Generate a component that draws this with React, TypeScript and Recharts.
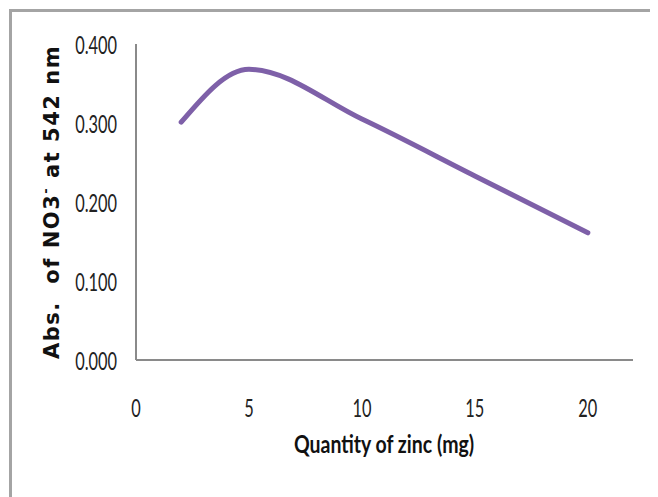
import { Customized, Line, LineChart, XAxis, YAxis } from 'recharts';

const zincMg = [2, 5, 10, 15, 20];
const absorbance = [0.301, 0.368, 0.305, 0.233, 0.161];
const xTicks = [0, 5, 10, 15, 20];
const yTicks = [0, 0.1, 0.2, 0.3, 0.4];

const LINE_COLOR = '#7e60a8';
const AXIS_COLOR = '#8a8a8a';
const TICK_FONT = 'Lato, "Open Sans", sans-serif';

const data = zincMg.map((x, i) => ({ x, y: absorbance[i] }));

function XTick({ x, y, payload }: any) {
  return (
    <g transform={`translate(${x},${y + 57})`}>
      <text transform="scale(0.63,1)" textAnchor="middle" fontFamily={TICK_FONT} fontSize={26} fill="#222">
        {payload.value}
      </text>
    </g>
  );
}

function YTick({ x, y, payload }: any) {
  return (
    <g transform={`translate(${x - 19},${y + 10})`}>
      <text transform="scale(0.63,1)" textAnchor="end" fontFamily={TICK_FONT} fontSize={26} fill="#222">
        {Number(payload.value).toFixed(3)}
      </text>
    </g>
  );
}

function Titles() {
  return (
    <g>
      <g transform="translate(376,445)">
        <text transform="scale(0.78,1)" textAnchor="middle" fontFamily={TICK_FONT} fontWeight={700} fontSize={25} fill="#111">
          Quantity of zinc (mg)
        </text>
      </g>
      <text
        transform="translate(51,194) rotate(-90)"
        textAnchor="middle"
        fontFamily='"DejaVu Sans", sans-serif'
        fontWeight={700}
        fontSize={21}
        letterSpacing={1.5}
        fill="#111"
      >
        Abs.{'\u00a0'} of NO3<tspan fontSize={13} dy={-9}>-</tspan>
        <tspan dy={9}> at 542 nm</tspan>
      </text>
    </g>
  );
}

export default function App() {
  return (
    <div style={{ position: 'relative', width: 650, height: 489 }}>
      <div
        style={{
          position: 'absolute',
          left: 1,
          top: 1,
          right: -8,
          bottom: -8,
          borderLeft: '3px solid #a4a4a4',
          borderTop: '3px solid #a4a4a4',
        }}
      />
      <LineChart
        width={650}
        height={489}
        data={data}
        margin={{ top: 36, right: 25, left: 48, bottom: 107 }}
        style={{ position: 'absolute', left: 0, top: 0 }}
      >
        <XAxis
          dataKey="x"
          type="number"
          domain={[0, 22]}
          ticks={xTicks}
          height={30}
          tickSize={0}
          tickMargin={0}
          tickLine={false}
          axisLine={{ stroke: AXIS_COLOR, strokeWidth: 2 }}
          tick={<XTick />}
        />
        <YAxis
          type="number"
          domain={[0, 0.4]}
          ticks={yTicks}
          width={80}
          tickSize={0}
          tickMargin={0}
          tickLine={false}
          axisLine={{ stroke: AXIS_COLOR, strokeWidth: 2 }}
          tick={<YTick />}
        />
        <Line
          dataKey="y"
          type="monotone"
          stroke={LINE_COLOR}
          strokeWidth={5}
          strokeLinecap="round"
          dot={false}
          activeDot={false}
          isAnimationActive={false}
        />
        <Customized component={<Titles />} />
      </LineChart>
    </div>
  );
}
